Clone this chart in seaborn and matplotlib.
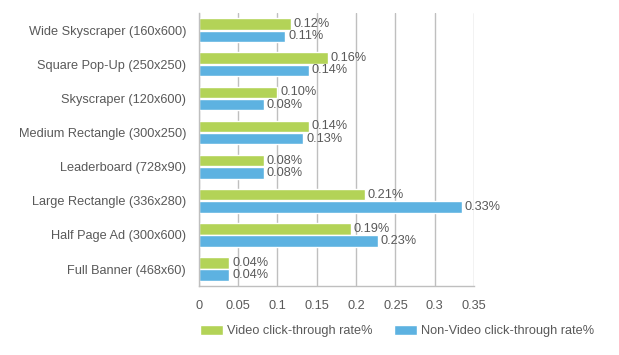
import matplotlib
matplotlib.use("Agg")
import matplotlib.pyplot as plt
import seaborn as sns
import pandas as pd
import numpy as np

# ad formats, top to bottom
formats = ["Wide Skyscraper (160x600)", "Square Pop-Up (250x250)", "Skyscraper (120x600)",
           "Medium Rectangle (300x250)", "Leaderboard (728x90)", "Large Rectangle (336x280)",
           "Half Page Ad (300x600)", "Full Banner (468x60)"]
video_ctr = [0.117, 0.164, 0.100, 0.140, 0.083, 0.211, 0.193, 0.039]
nonvideo_ctr = [0.110, 0.140, 0.083, 0.133, 0.083, 0.334, 0.228, 0.039]
series_names = ["Video click-through rate%", "Non-Video click-through rate%"]
x_ticks = [0, 0.05, 0.1, 0.15, 0.2, 0.25, 0.3, 0.35]
x_tick_labels = ["0", "0.05", "0.1", "0.15", "0.2", "0.25", "0.3", "0.35"]

df = pd.DataFrame({
    "format": formats * 2,
    "rate": video_ctr + nonvideo_ctr,
    "series": [series_names[0]] * len(formats) + [series_names[1]] * len(formats),
})

sns.set_style("white")
plt.rcParams["font.family"] = ["Liberation Sans", "DejaVu Sans"]

text_color = "#595959"
line_color = "#bfbfbf"

fig = plt.figure(figsize=(6.19, 3.55), dpi=100)
ax = fig.add_axes([0.321, 0.194, 0.445, 0.769])

sns.barplot(data=df, x="rate", y="format", hue="series", orient="h",
            palette=["#B3D357", "#5DB2E1"], width=0.72, gap=0.07,
            saturation=1, ax=ax, legend=True)

for cont in ax.containers:
    ax.bar_label(cont, labels=[f"{v:.2f}%" for v in cont.datavalues],
                 padding=2, fontsize=9.2, color=text_color)

ax.set_xlim(0, 0.35)
ax.set_xticks(x_ticks)
ax.set_xticklabels(x_tick_labels)
ax.set_ylim(len(formats) - 0.5, -0.5)
ax.set_xlabel("")
ax.set_ylabel("")

ax.grid(axis="x", color=line_color, linewidth=1)
ax.set_axisbelow(True)
for side in ["top", "right"]:
    ax.spines[side].set_visible(False)
for side in ["left", "bottom"]:
    ax.spines[side].set_color(line_color)
    ax.spines[side].set_linewidth(1)

# category boundary ticks on the left spine
ax.set_yticks(np.arange(-0.5, len(formats), 1), minor=True)
ax.tick_params(axis="y", which="major", length=0, pad=9, labelsize=9.2, labelcolor=text_color)
ax.tick_params(axis="y", which="minor", length=4, color=line_color, direction="out")
ax.tick_params(axis="x", length=4, color=line_color, direction="out", pad=6,
               labelsize=9.2, labelcolor=text_color)

handles, labels = ax.get_legend_handles_labels()
ax.get_legend().remove()
fig.legend(handles, labels, loc="center left", bbox_to_anchor=(0.305, 0.067),
           ncol=2, frameon=False, fontsize=9.2, labelcolor=text_color,
           handlelength=1.75, handleheight=0.75, handletextpad=0.35, columnspacing=1.7)

fig.savefig("out.png", dpi=100)
